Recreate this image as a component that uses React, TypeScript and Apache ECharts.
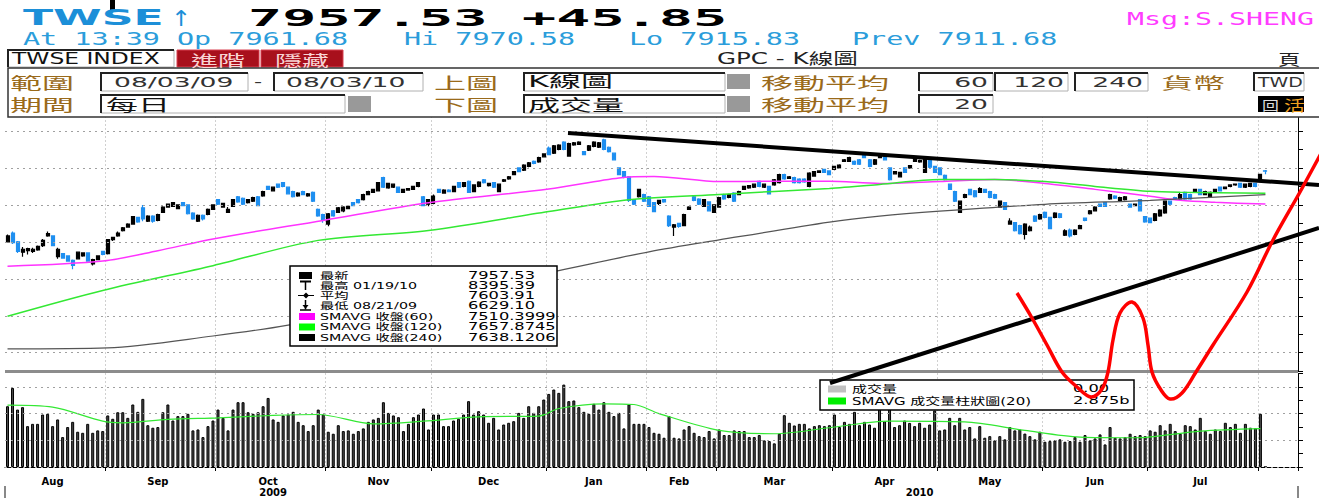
import React, { useEffect, useRef } from 'react';
import * as echarts from 'echarts';

// ---------------- DATA ----------------
// daily candles [open, close, low, high]
const aug09 = [
  [7000, 7080, 6990, 7100], [7120, 6990, 6970, 7140], [7000, 6870, 6850, 7010], [6860, 6900, 6800, 6930],
  [6880, 6910, 6830, 6920], [6870, 6900, 6850, 6920], [6890, 6940, 6880, 6950], [6950, 7020, 6930, 7040],
  [7080, 7110, 7070, 7140], [7080, 6950, 6940, 7090], [6800, 6900, 6770, 6920], [6840, 6780, 6770, 6850],
  [6810, 6740, 6730, 6820], [6750, 6680, 6629.1, 6760], [6770, 6860, 6760, 6870], [6810, 6850, 6800, 6860],
  [6850, 6740, 6730, 6860], [6700, 6760, 6680, 6770], [6760, 6810, 6750, 6820], [6870, 6830, 6820, 6880],
];
const sep09 = [
  [6840, 7030, 6830, 7040], [7030, 7060, 7010, 7070], [7080, 7120, 7070, 7140], [7150, 7190, 7140, 7200],
  [7200, 7240, 7190, 7250], [7240, 7340, 7230, 7350], [7330, 7270, 7260, 7340], [7460, 7310, 7280, 7500],
  [7280, 7350, 7270, 7360], [7350, 7280, 7260, 7360], [7290, 7370, 7280, 7380], [7400, 7470, 7390, 7480],
  [7470, 7510, 7460, 7520], [7480, 7530, 7470, 7540], [7450, 7500, 7440, 7510], [7530, 7490, 7480, 7540],
  [7500, 7380, 7370, 7510], [7390, 7310, 7300, 7400], [7280, 7360, 7270, 7370], [7360, 7310, 7290, 7370],
  [7370, 7440, 7360, 7450], [7440, 7500, 7430, 7510],
];
const oct09 = [
  [7570, 7510, 7500, 7580], [7470, 7520, 7460, 7530], [7400, 7440, 7390, 7470], [7480, 7570, 7470, 7580],
  [7610, 7540, 7530, 7620], [7590, 7510, 7500, 7600], [7530, 7570, 7520, 7580], [7550, 7600, 7540, 7610],
  [7610, 7490, 7480, 7620], [7620, 7680, 7610, 7690], [7750, 7710, 7700, 7760], [7690, 7740, 7680, 7750],
  [7780, 7740, 7730, 7790], [7800, 7750, 7740, 7810], [7740, 7650, 7640, 7750], [7680, 7610, 7600, 7690],
  [7620, 7660, 7610, 7670], [7680, 7640, 7630, 7690], [7620, 7650, 7610, 7660], [7670, 7550, 7540, 7680],
  [7440, 7350, 7340, 7450], [7370, 7290, 7260, 7380],
];
const nov09 = [
  [7240, 7380, 7210, 7390], [7420, 7350, 7340, 7430], [7400, 7460, 7390, 7470], [7420, 7470, 7400, 7480],
  [7450, 7480, 7440, 7490], [7530, 7490, 7480, 7540], [7570, 7530, 7520, 7580], [7570, 7640, 7560, 7650],
  [7640, 7680, 7630, 7690], [7670, 7710, 7660, 7720], [7690, 7800, 7680, 7810], [7870, 7740, 7730, 7880],
  [7730, 7790, 7720, 7800], [7740, 7780, 7730, 7790], [7740, 7670, 7660, 7750], [7670, 7710, 7660, 7720],
  [7700, 7720, 7690, 7730], [7710, 7750, 7700, 7760], [7750, 7800, 7740, 7810], [7610, 7490, 7480, 7620],
  [7510, 7570, 7480, 7580],
];
const dec09 = [
  [7520, 7620, 7510, 7640], [7710, 7670, 7660, 7720], [7660, 7700, 7650, 7710], [7700, 7680, 7670, 7710],
  [7680, 7750, 7670, 7760], [7800, 7740, 7730, 7810], [7750, 7800, 7740, 7810], [7820, 7670, 7660, 7830],
  [7680, 7770, 7670, 7780], [7750, 7810, 7740, 7820], [7840, 7800, 7790, 7850], [7760, 7790, 7750, 7800],
  [7800, 7740, 7730, 7810], [7680, 7780, 7670, 7790], [7820, 7840, 7810, 7850], [7850, 7880, 7840, 7890],
  [7910, 7950, 7900, 7960], [8000, 7950, 7940, 8010], [7970, 8040, 7960, 8050], [8020, 8070, 8010, 8080],
  [8090, 8060, 8050, 8100], [8080, 8140, 8070, 8150], [8150, 8190, 8140, 8200],
];
const jan10 = [
  [8270, 8180, 8170, 8290], [8200, 8300, 8190, 8310], [8250, 8310, 8240, 8320], [8350, 8250, 8240, 8360],
  [8160, 8330, 8150, 8340], [8310, 8340, 8300, 8350], [8320, 8350, 8310, 8360], [8220, 8180, 8170, 8230],
  [8240, 8300, 8230, 8310], [8290, 8350, 8280, 8360], [8280, 8340, 8270, 8350], [8380, 8250, 8240, 8395.39],
  [8280, 8220, 8210, 8290], [8200, 8110, 8100, 8210], [8000, 7910, 7900, 8010], [7950, 7880, 7860, 7960],
  [7880, 7560, 7540, 7890], [7570, 7510, 7500, 7580], [7610, 7710, 7600, 7720], [7640, 7550, 7540, 7650],
];
const feb10 = [
  [7610, 7480, 7470, 7620], [7530, 7410, 7400, 7540], [7520, 7560, 7500, 7570], [7570, 7540, 7530, 7580],
  [7350, 7220, 7200, 7360], [7200, 7230, 7080, 7240], [7250, 7210, 7190, 7260], [7220, 7370, 7210, 7380],
  [7440, 7470, 7430, 7480], [7610, 7560, 7550, 7620], [7580, 7510, 7500, 7590], [7480, 7570, 7470, 7580],
  [7540, 7420, 7410, 7550], [7400, 7500, 7390, 7510],
];
const mar10 = [
  [7470, 7600, 7460, 7610], [7640, 7580, 7570, 7650], [7600, 7640, 7590, 7650], [7660, 7550, 7540, 7670],
  [7640, 7680, 7630, 7690], [7710, 7750, 7700, 7760], [7730, 7760, 7720, 7770], [7740, 7780, 7730, 7790],
  [7820, 7750, 7740, 7830], [7740, 7780, 7730, 7790], [7750, 7650, 7640, 7760], [7770, 7840, 7760, 7850],
  [7800, 7910, 7790, 7920], [7910, 7850, 7840, 7920], [7860, 7880, 7850, 7890], [7870, 7800, 7790, 7880],
  [7850, 7800, 7790, 7860], [7850, 7810, 7800, 7860], [7750, 7930, 7740, 7940], [7890, 7950, 7880, 7960],
  [7940, 7960, 7930, 7970], [7980, 7940, 7930, 7990], [7960, 7910, 7900, 7970],
];
const apr10 = [
  [7980, 8020, 7970, 8030], [8000, 8040, 7990, 8050], [8090, 8110, 8080, 8120], [8090, 8140, 8080, 8150],
  [8090, 8050, 8040, 8100], [8110, 8050, 8040, 8120], [8170, 8140, 8130, 8180], [8110, 8020, 8010, 8120],
  [8050, 8110, 8040, 8120], [8140, 8170, 8130, 8180], [8180, 8110, 8100, 8190], [8000, 7840, 7830, 8010],
  [7920, 7950, 7910, 7960], [7880, 7940, 7870, 7950], [8000, 7940, 7930, 8010], [8000, 8030, 7990, 8040],
  [8090, 8140, 8080, 8150], [8080, 8100, 8070, 8110], [7940, 8130, 7930, 8140], [8110, 8010, 8000, 8120],
  [8020, 7940, 7930, 8030],
];
const may10 = [
  [8000, 7910, 7900, 8010], [7900, 7840, 7830, 7910], [7780, 7710, 7700, 7790], [7680, 7550, 7540, 7690],
  [7400, 7550, 7390, 7560], [7600, 7640, 7590, 7650], [7710, 7640, 7630, 7720], [7690, 7610, 7600, 7700],
  [7670, 7720, 7660, 7740], [7710, 7670, 7660, 7720], [7680, 7600, 7590, 7690], [7640, 7590, 7580, 7650],
  [7470, 7550, 7460, 7560], [7530, 7440, 7430, 7540], [7240, 7280, 7230, 7320], [7260, 7150, 7140, 7270],
  [7220, 7110, 7100, 7230], [7100, 7240, 7032, 7250], [7150, 7200, 7140, 7220], [7350, 7280, 7270, 7360],
  [7310, 7370, 7300, 7380],
];
const jun10 = [
  [7400, 7330, 7320, 7410], [7330, 7180, 7170, 7340], [7330, 7390, 7320, 7400], [7380, 7330, 7320, 7390],
  [7090, 7150, 7080, 7170], [7160, 7080, 7060, 7180], [7100, 7160, 7090, 7170], [7180, 7220, 7170, 7230],
  [7320, 7290, 7280, 7330], [7380, 7420, 7370, 7430], [7420, 7470, 7410, 7480], [7510, 7480, 7470, 7520],
  [7530, 7480, 7470, 7540], [7580, 7640, 7570, 7650], [7620, 7590, 7580, 7630], [7560, 7600, 7550, 7610],
  [7570, 7610, 7560, 7620], [7510, 7470, 7460, 7520], [7490, 7510, 7480, 7520], [7570, 7420, 7410, 7580],
  [7340, 7270, 7260, 7350],
];
const jul10 = [
  [7320, 7260, 7250, 7330], [7290, 7380, 7280, 7390], [7350, 7430, 7340, 7440], [7390, 7550, 7380, 7560],
  [7550, 7510, 7500, 7560], [7600, 7580, 7570, 7610], [7580, 7640, 7570, 7660], [7670, 7580, 7570, 7680],
  [7640, 7580, 7570, 7650], [7670, 7710, 7660, 7720], [7710, 7640, 7630, 7720], [7640, 7680, 7630, 7690],
  [7610, 7670, 7600, 7680], [7670, 7710, 7660, 7720], [7740, 7690, 7680, 7750], [7720, 7740, 7710, 7750],
  [7750, 7770, 7740, 7780], [7770, 7780, 7760, 7790], [7790, 7740, 7730, 7800], [7740, 7780, 7730, 7790],
  [7750, 7790, 7740, 7800], [7790, 7750, 7740, 7800],
];
const aug10 = [
  [7850, 7911.68, 7840, 7920], [7961.68, 7957.53, 7915.83, 7970.58],
];

// daily volume (billions)
const volAug09 = [4.55, 5.92, 4.3, 4.48, 3.06, 3.23, 3.23, 3.93, 3.98, 3.06, 3.56, 2.24, 2.99, 3.38, 2.64, 2.56, 3.23, 2.56, 2.74, 2.69];
const volSep09 = [3.86, 3.61, 4.1, 4.1, 3.68, 4.68, 4.13, 5.1, 3.13, 2.94, 2.99, 4.1, 4.68, 3.48, 3.81, 3.81, 3.98, 2.74, 2.81, 2.24, 3.06, 3.48];
const volOct09 = [4.3, 3.68, 2.74, 4.3, 4.85, 4.85, 4.1, 3.98, 4.1, 4.55, 5.17, 3.56, 3.38, 3.86, 3.93, 4.13, 3.38, 3.13, 2.69, 3.13, 4.3, 3.93];
const volNov09 = [2.64, 2.49, 3.13, 2.69, 2.74, 2.49, 2.69, 2.89, 3.38, 3.56, 3.68, 4.85, 4.05, 3.86, 3.73, 2.69, 3.23, 3.73, 3.93, 4.38, 2.81];
const volDec09 = [3.93, 3.93, 3.06, 3.06, 3.48, 3.61, 3.93, 4.93, 3.93, 4.18, 3.93, 3.31, 3.68, 2.81, 3.18, 3.31, 3.43, 4.05, 3.68, 4.55, 4.05, 4.55, 5.05];
const volJan10 = [5.47, 5.8, 5.55, 6.17, 4.93, 4.98, 4.48, 4.13, 3.98, 4.73, 4.3, 4.85, 4.13, 3.81, 4.05, 2.89, 4.68, 3.23, 3.23, 3.23];
const volFeb10 = [2.99, 2.56, 2.49, 2.19, 3.81, 2.19, 2.14, 2.81, 3.06, 2.56, 2.31, 2.24, 2.69, 2.14];
const volMar10 = [2.81, 2.39, 2.39, 2.74, 2.69, 2.69, 2.24, 2.24, 2.39, 1.99, 1.94, 1.77, 2.49, 3.88, 3.31, 3.11, 3.23, 3.23, 2.89, 3.06, 3.13, 3.06, 3.13];
const volApr10 = [3.93, 2.99, 3.38, 3.23, 4.13, 3.13, 3.38, 3.18, 2.94, 5.05, 3.43, 4.88, 2.99, 3.13, 3.48, 3.3, 3.06, 3.31, 2.94, 3.18, 4.23];
const volMay10 = [2.74, 2.81, 3.68, 3.13, 3.68, 2.81, 2.99, 2.14, 3.06, 2.19, 2.31, 1.99, 2.31, 2.07, 2.99, 2.74, 2.81, 2.5, 2.31, 2.07, 2.64];
const volJun10 = [1.89, 1.94, 1.99, 2.07, 1.89, 1.94, 2.24, 1.89, 2.39, 1.99, 2.14, 2.44, 1.69, 2.99, 2.19, 2.14, 2.24, 2.49, 2.31, 2.39, 2.31];
const volJul10 = [2.74, 2.64, 3.13, 2.74, 3.23, 2.69, 2.49, 3.13, 3.06, 2.81, 3.68, 2.69, 2.49, 2.81, 2.69, 3.31, 2.99, 3.23, 2.56, 3.23, 2.94, 2.9];
const volAug10 = [3.98, 0];

const months = [
  { label: 'Aug', year: 2009, ohlc: aug09, vol: volAug09 },
  { label: 'Sep', year: 2009, ohlc: sep09, vol: volSep09 },
  { label: 'Oct', year: 2009, ohlc: oct09, vol: volOct09 },
  { label: 'Nov', year: 2009, ohlc: nov09, vol: volNov09 },
  { label: 'Dec', year: 2009, ohlc: dec09, vol: volDec09 },
  { label: 'Jan', year: 2010, ohlc: jan10, vol: volJan10 },
  { label: 'Feb', year: 2010, ohlc: feb10, vol: volFeb10 },
  { label: 'Mar', year: 2010, ohlc: mar10, vol: volMar10 },
  { label: 'Apr', year: 2010, ohlc: apr10, vol: volApr10 },
  { label: 'May', year: 2010, ohlc: may10, vol: volMay10 },
  { label: 'Jun', year: 2010, ohlc: jun10, vol: volJun10 },
  { label: 'Jul', year: 2010, ohlc: jul10, vol: volJul10 },
  { label: '', year: 2010, ohlc: aug10, vol: volAug10 },
];
const PAD_SLOTS = 6;

// moving averages, read at [day index, value]
const ma60 = [[0, 6670], [19, 6740], [30, 6880], [41, 7040], [63, 7290], [84, 7530], [108, 7715], [122, 7865], [129, 7884], [142, 7815], [153, 7820], [164, 7820], [174, 7790], [186, 7817], [197, 7843], [207, 7790], [217, 7710], [228, 7616], [234, 7562], [241, 7535], [251, 7510.4]];
const ma120 = [[0, 5994], [19, 6343], [41, 6678], [62, 7020], [84, 7155], [108, 7410], [124, 7570], [142, 7642], [164, 7723], [174, 7776], [186, 7843], [197, 7843], [207, 7816], [217, 7750], [228, 7683], [234, 7670], [251, 7657.87]];
const ma240 = [[0, 5552], [20, 5565], [41, 5726], [56, 5874], [84, 6250], [110, 6611], [128, 6865], [142, 7026], [164, 7267], [174, 7348], [186, 7415], [207, 7508], [228, 7562], [251, 7638.12]];
const volMa20 = [[0, 4.63], [9, 4.48], [19, 3.43], [23, 3.31], [32, 3.56], [42, 3.68], [53, 3.86], [62, 3.93], [73, 3.23], [83, 3.43], [94, 3.76], [106, 3.81], [110, 4.38], [119, 4.73], [125, 4.68], [130, 4.0], [142, 2.74], [153, 2.49], [164, 2.94], [176, 3.43], [191, 3.38], [203, 2.74], [214, 2.24], [225, 2.19], [238, 2.69], [250, 2.875]];

const priceGridLines = [5500, 6000, 6500, 7000, 7500, 8000, 8500];
const volGridLines = [0, 2, 4, 6];

const priceLegendRows = [
  { label: '最新', value: '7957.53' },
  { label: '最高 01/19/10', value: '8395.39' },
  { label: '平均', value: '7603.91' },
  { label: '最低 08/21/09', value: '6629.10' },
  { label: 'SMAVG 收盤(60)', value: '7510.3999' },
  { label: 'SMAVG 收盤(120)', value: '7657.8745' },
  { label: 'SMAVG 收盤(240)', value: '7638.1206' },
];
const volLegendRows = [
  { label: '成交量', value: '0.00' },
  { label: 'SMAVG 成交量柱狀圖(20)', value: '2.875b' },
];

// ---------------- BUILD ----------------
const categories: string[] = [];
const candles: number[][] = [];
const volumes: number[] = [];
const boundarySet = new Set<number>();
const monthLabelAt: Record<number, string> = {};
const yearRanges: Record<number, [number, number]> = {};
let cursor = 0;
months.forEach((m, mi) => {
  if (mi > 0) boundarySet.add(cursor);
  if (m.label) monthLabelAt[cursor + Math.floor((m.ohlc.length - 1) / 2)] = m.label;
  if (!yearRanges[m.year]) yearRanges[m.year] = [cursor, cursor];
  m.ohlc.forEach((c, k) => {
    categories.push(`${m.year}-${mi}-${k + 1}`);
    candles.push(c);
    volumes.push(m.vol[k]);
  });
  cursor += m.ohlc.length;
  yearRanges[m.year][1] = cursor - 1;
});
for (let k = 0; k < PAD_SLOTS; k++) categories.push(`pad-${k}`);
const years = Object.keys(yearRanges).map(Number).sort();
const lastYear = years[years.length - 1];
yearRanges[lastYear][1] = categories.length - 1;
const yearLabelAt: Record<number, string> = {};
years.forEach((y) => {
  const [a, b] = yearRanges[y];
  yearLabelAt[Math.floor((a + b) / 2)] = String(y);
});
const yearStart = yearRanges[lastYear][0];

// ---------------- GRAPHIC HELPERS ----------------
const SANS = '"DejaVu Sans", "Noto Sans CJK TC", sans-serif';
const CJK = '"Noto Sans CJK TC", "DejaVu Sans", sans-serif';
const MONO = '"DejaVu Sans Mono", monospace';
const BROWN = '#9a6a1a';

function T(x: number, y: number, text: string, size: number, fill: string, o: any = {}) {
  const align = o.align || 'left';
  return {
    type: 'text', x, y, scaleX: o.sx || 1, z: o.z || 101, silent: true,
    style: {
      text, fill, fontSize: size, fontFamily: o.family || SANS, fontWeight: o.weight || 'normal',
      align, verticalAlign: 'middle', textAlign: align, textVerticalAlign: 'middle',
    },
  };
}
function R(x: number, y: number, w: number, h: number, fill: string, stroke?: string, lw?: number, z = 100) {
  return {
    type: 'rect', z, silent: true, shape: { x, y, width: w, height: h },
    style: { fill, stroke: stroke || 'none', lineWidth: lw || 0 },
  };
}
function L(x1: number, y1: number, x2: number, y2: number, stroke: string, lw: number, z = 101) {
  return { type: 'line', z, silent: true, shape: { x1, y1, x2, y2 }, style: { stroke, lineWidth: lw } };
}
function inputBox(x: number, y: number, w: number, h: number) {
  return [
    R(x, y, w, h, '#fff', '#b0b0b0', 1),
    { type: 'polyline', z: 101, silent: true, shape: { points: [[x, y + h], [x, y], [x + w, y]] }, style: { stroke: '#222', lineWidth: 2, fill: 'none' } },
  ];
}

function buildGraphics() {
  const g: any[] = [];
  // top header
  g.push(R(110, 0, 5, 11, '#000'));
  g.push(T(23, 18, 'TWSE', 21, '#1c8fd8', { weight: 'bold', sx: 2.1 }));
  g.push(T(171, 18, '↑', 22, '#1c8fd8', { sx: 1.1 }));
  g.push(T(248, 18, '7957.53', 23, '#000', { family: MONO, weight: 'bold', sx: 2.47 }));
  g.push(T(522, 18, '+45.85', 23, '#000', { family: MONO, weight: 'bold', sx: 2.47 }));
  g.push(T(1127, 19, 'Msg:S.SHENG', 18, '#ff3cff', { family: MONO, sx: 1.57 }));
  const blue2 = '#2b9ddb';
  g.push(T(23, 38.5, 'At 13:39 Op 7961.68', 18, blue2, { family: MONO, sx: 1.58 }));
  g.push(T(404, 38.5, 'Hi 7970.58', 18, blue2, { family: MONO, sx: 1.58 }));
  g.push(T(629, 38.5, 'Lo 7915.83', 18, blue2, { family: MONO, sx: 1.58 }));
  g.push(T(852, 38.5, 'Prev 7911.68', 18, blue2, { family: MONO, sx: 1.58 }));

  // title row
  g.push(...inputBox(8, 50, 166, 17));
  g.push(T(12, 59, 'TWSE INDEX', 15, '#111', { sx: 1.56 }));
  g.push(R(177, 50, 82, 17, '#a8101c', '#d84050', 1));
  g.push(T(218, 59, '進階', 15, '#f8d4d4', { family: CJK, align: 'center', sx: 1.8 }));
  g.push(R(261, 50, 82, 17, '#a8101c', '#d84050', 1));
  g.push(T(302, 59, '隱藏', 15, '#f8d4d4', { family: CJK, align: 'center', sx: 1.8 }));
  g.push(T(717, 59, 'GPC - K線圖', 15, '#222', { sx: 1.64 }));
  g.push(T(1278, 59, '頁', 15, '#222', { family: CJK, sx: 1.5 }));

  // settings panel
  g.push(R(8, 68, 1316, 49, '#fff', '#333', 1.5));
  const r1 = 82, r2 = 104;
  g.push(T(10, r1, '範圍', 16, BROWN, { family: CJK, sx: 2.0 }));
  g.push(T(10, r2, '期間', 16, BROWN, { family: CJK, sx: 2.0 }));
  g.push(...inputBox(101, 73, 147, 18));
  g.push(T(114, r1, '08/03/09', 14, '#333', { sx: 1.9 }));
  g.push(T(254, r1, '-', 14, '#333', { sx: 1.6 }));
  g.push(...inputBox(274, 73, 149, 18));
  g.push(T(286, r1, '08/03/10', 14, '#333', { sx: 1.9 }));
  g.push(...inputBox(101, 95, 244, 18));
  g.push(T(106, r2, '每日', 16, '#111', { family: CJK, sx: 2.0 }));
  g.push(R(348, 96, 23, 16, '#999'));
  g.push(T(434, r1, '上圖', 16, BROWN, { family: CJK, sx: 2.0 }));
  g.push(T(434, r2, '下圖', 16, BROWN, { family: CJK, sx: 2.0 }));
  g.push(...inputBox(524, 73, 201, 18));
  g.push(T(528, r1, 'K線圖', 16, '#111', { sx: 2.0 }));
  g.push(...inputBox(524, 95, 201, 18));
  g.push(T(528, r2, '成交量', 16, '#111', { family: CJK, sx: 2.0 }));
  g.push(R(727, 74, 23, 15, '#999'));
  g.push(R(727, 96, 23, 16, '#999'));
  g.push(T(761, r1, '移動平均', 16, BROWN, { family: CJK, sx: 2.0 }));
  g.push(T(761, r2, '移動平均', 16, BROWN, { family: CJK, sx: 2.0 }));
  g.push(...inputBox(919, 73, 74, 18));
  g.push(T(988, r1, '60', 14, '#333', { align: 'right', sx: 1.9 }));
  g.push(...inputBox(995, 73, 73, 18));
  g.push(T(1064, r1, '120', 14, '#333', { align: 'right', sx: 1.9 }));
  g.push(...inputBox(1075, 73, 73, 18));
  g.push(T(1143, r1, '240', 14, '#333', { align: 'right', sx: 1.9 }));
  g.push(T(1161, r1, '貨幣', 16, BROWN, { family: CJK, sx: 2.0 }));
  g.push(...inputBox(1254, 73, 50, 18));
  g.push(T(1258, r1, 'TWD', 14, '#333', { sx: 1.35 }));
  g.push(...inputBox(919, 95, 74, 18));
  g.push(T(988, r2, '20', 14, '#333', { align: 'right', sx: 1.9 }));
  g.push(R(1258, 96, 46, 16, '#000'));
  g.push(T(1262, r2, '回', 13, '#ddd', { family: CJK, sx: 1.3 }));
  g.push(T(1284, r2, '活', 15, '#f0a020', { family: CJK, sx: 1.4 }));

  // separator between the panels
  g.push(R(5, 370, 1293, 3, '#8c8c8c', undefined, 0, 99));

  // price legend
  g.push(R(290, 266, 267, 80, '#fff', '#000', 1.5));
  const rowsY = [275.5, 285.5, 295.5, 305.5, 316.5, 327, 337.5];
  g.push(R(299, 272, 13, 7, '#000', undefined, 0, 101));
  g.push(L(300, 281.5, 311, 281.5, '#000', 2));
  g.push(L(305.5, 281.5, 305.5, 290, '#000', 1.5));
  g.push(L(298, 295.5, 314, 295.5, '#000', 1));
  g.push({ type: 'polygon', z: 101, silent: true, shape: { points: [[306, 292.5], [309, 295.5], [306, 298.5], [303, 295.5]] }, style: { fill: '#000' } });
  g.push(L(305.5, 300, 305.5, 309.5, '#000', 1.5));
  g.push(L(300, 310, 311, 310, '#000', 1.5));
  g.push({ type: 'polygon', z: 101, silent: true, shape: { points: [[302.5, 305], [308.5, 305], [305.5, 309]] }, style: { fill: '#000' } });
  g.push(R(299, 313, 16, 7, '#ff00ff', undefined, 0, 101));
  g.push(R(299, 323.5, 16, 7, '#00ff00', undefined, 0, 101));
  g.push(R(299, 334, 16, 7, '#000', undefined, 0, 101));
  priceLegendRows.forEach((r, i) => {
    g.push(T(320, rowsY[i], r.label, 9.5, '#000', { sx: 1.5 }));
    g.push(T(468, rowsY[i], r.value, 10, '#000', { sx: 1.62 }));
  });

  // volume legend
  g.push(R(820, 380, 314, 30, '#fff', '#000', 1.5));
  g.push(R(828, 385.5, 18, 7, '#c0c0c0', undefined, 0, 101));
  g.push(R(828, 397.5, 18, 7, '#00ee00', undefined, 0, 101));
  volLegendRows.forEach((r, i) => {
    g.push(T(852, 389 + i * 12, r.label, 10, '#000', { sx: 1.5 }));
    g.push(T(1073, 389 + i * 12, r.value, 10, '#000', { sx: 1.62 }));
  });

  // hand-drawn annotations
  g.push(L(568, 133, 1319, 185, '#000', 4, 110));
  g.push(L(830, 383, 1319, 228, '#000', 4, 110));
  g.push({
    type: 'polyline', z: 111, silent: true,
    shape: {
      smooth: 0.35,
      points: [[1017, 293], [1032, 318], [1047, 345], [1062, 372], [1077, 387], [1091, 397], [1102, 389], [1108, 372],
        [1113, 340], [1120, 313], [1132, 302], [1143, 318], [1148, 345], [1152, 372], [1161, 390], [1170, 399],
        [1182, 393], [1196, 372], [1213, 345], [1247, 292], [1273, 240], [1300, 192], [1325, 146]],
    },
    style: { stroke: '#ff0000', lineWidth: 3.5, fill: 'none' },
  });
  return g;
}

// ---------------- CHART ----------------
export default function App() {
  const ref = useRef<HTMLDivElement>(null);
  useEffect(() => {
    if (!ref.current) return;
    const chart = echarts.init(ref.current, undefined, { renderer: 'svg' });
    const dottedV = { color: '#a0a0a0', width: 1, type: [1, 3] };
    const dottedH = { color: '#a0a0a0', width: 1, type: [2, 4] };
    const isBoundary = (i: number) => boundarySet.has(i);
    chart.setOption({
      animation: false,
      backgroundColor: '#fff',
      grid: [
        { left: 5, right: 21, top: 112.5, height: 258.7 },
        { left: 5, right: 21, top: 373.5, height: 93.5 },
      ],
      xAxis: [
        {
          type: 'category', gridIndex: 0, position: 'bottom', data: categories, boundaryGap: true,
          axisLine: { show: false }, axisTick: { show: false }, axisLabel: { show: false },
          splitLine: { show: true, interval: isBoundary, lineStyle: dottedV },
        },
        {
          type: 'category', gridIndex: 1, position: 'bottom', data: categories, boundaryGap: true, offset: 6,
          axisLine: { show: true, lineStyle: { color: '#000', width: 1 } },
          axisTick: { show: true, interval: isBoundary, length: 4, lineStyle: { color: '#000' } },
          axisLabel: {
            show: true, interval: (i: number) => i in monthLabelAt, formatter: (_v: string, i: number) => monthLabelAt[i] || '',
            fontSize: 10, fontWeight: 'bold', fontFamily: 'DejaVu Sans', color: '#000', margin: 3,
          },
          splitLine: { show: true, interval: isBoundary, lineStyle: dottedV },
        },
        {
          type: 'category', gridIndex: 1, position: 'bottom', data: categories, boundaryGap: true, offset: 19,
          axisLine: { show: false },
          axisTick: { show: true, interval: (i: number) => i === yearStart, length: 12, lineStyle: { color: '#888', width: 2 } },
          axisLabel: {
            show: true, interval: (i: number) => i in yearLabelAt, formatter: (_v: string, i: number) => yearLabelAt[i] || '',
            fontSize: 10, fontWeight: 'bold', fontFamily: 'DejaVu Sans', color: '#000', margin: 1,
          },
          splitLine: { show: false },
        },
      ],
      yAxis: [
        {
          type: 'value', gridIndex: 0, position: 'right', min: 5250, max: 8750, interval: 250,
          axisLine: { show: true, lineStyle: { color: '#000' } },
          axisTick: { show: true, length: 5, lineStyle: { color: '#000' } },
          axisLabel: { show: false }, splitLine: { show: false },
        },
        {
          type: 'value', gridIndex: 1, position: 'right', min: 0, max: 7, interval: 1,
          axisLine: { show: true, lineStyle: { color: '#000' } },
          axisTick: { show: true, length: 5, lineStyle: { color: '#000' } },
          axisLabel: { show: false }, splitLine: { show: false },
        },
      ],
      series: [
        {
          type: 'candlestick', xAxisIndex: 0, yAxisIndex: 0, data: candles, barWidth: 3.5,
          itemStyle: { color: '#000', color0: '#1f8ff0', borderColor: '#000', borderColor0: '#1f8ff0', borderWidth: 1.2 },
          markLine: {
            silent: true, symbol: ['none', 'none'], label: { show: false }, lineStyle: dottedH,
            data: priceGridLines.map((v) => ({ yAxis: v })),
          },
        },
        { type: 'line', xAxisIndex: 0, yAxisIndex: 0, data: ma60, showSymbol: false, smooth: 0.3, lineStyle: { color: '#ff33ff', width: 1.5 }, itemStyle: { color: '#ff33ff' } },
        { type: 'line', xAxisIndex: 0, yAxisIndex: 0, data: ma120, showSymbol: false, smooth: 0.3, lineStyle: { color: '#33e833', width: 1.5 }, itemStyle: { color: '#33e833' } },
        { type: 'line', xAxisIndex: 0, yAxisIndex: 0, data: ma240, showSymbol: false, smooth: 0.3, lineStyle: { color: '#555', width: 1.2 }, itemStyle: { color: '#555' } },
        {
          type: 'bar', xAxisIndex: 1, yAxisIndex: 1, data: volumes, barWidth: 3,
          itemStyle: { color: '#4a4a4a', borderColor: '#000', borderWidth: 1 },
          markLine: {
            silent: true, symbol: ['none', 'none'], label: { show: false }, lineStyle: dottedH,
            data: volGridLines.map((v) => ({ yAxis: v })),
          },
        },
        { type: 'line', xAxisIndex: 1, yAxisIndex: 1, data: volMa20, showSymbol: false, smooth: 0.3, lineStyle: { color: '#33e833', width: 1.2 }, itemStyle: { color: '#33e833' } },
      ],
      graphic: { elements: buildGraphics() },
    });
    return () => chart.dispose();
  }, []);
  return <div ref={ref} style={{ position: 'absolute', left: 0, top: 0, width: 1319, height: 498 }} />;
}
